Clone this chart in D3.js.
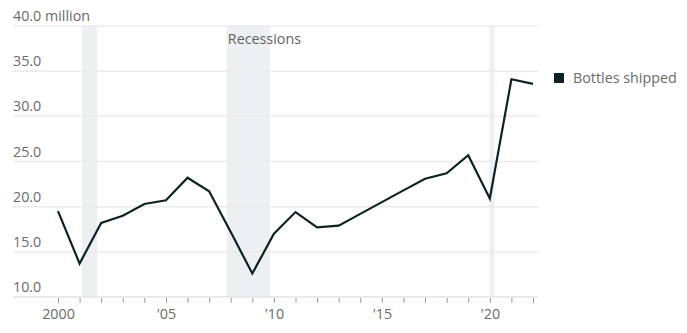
<!DOCTYPE html>
<html>
<head>
<meta charset="utf-8">
<script src="https://cdn.jsdelivr.net/npm/d3@7"></script>
<style>
  body { margin: 0; background: #fff; }
  text { font-family: "Open Sans", Roboto, sans-serif; }
</style>
</head>
<body>
<svg id="svg"></svg>
<script>
// bottles shipped per year, millions
var years = d3.range(2000, 2023);
var shipped = [19.5, 13.7, 18.2, 19.0, 20.3, 20.7, 23.2, 21.7, 17.2, 12.6, 17.0, 19.4,
               17.7, 17.9, 19.2, 20.5, 21.8, 23.1, 23.7, 25.7, 20.9, 34.1, 33.6];
var yTicks = [10, 15, 20, 25, 30, 35, 40];
var xLabels = {2000: "2000", 2005: "'05", 2010: "'10", 2015: "'15", 2020: "'20"};
// recession spans as fractional years
var recessions = [[2001.11, 2001.81], [2007.82, 2009.82], [2019.98, 2020.22]];
var seriesName = "Bottles shipped";

var width = 687, height = 333;
var left = 13, right = 538;
var fontSize = 14.3;

var svg = d3.select("#svg").attr("width", width).attr("height", height);

var xScale = d3.scaleLinear().domain([2000, 2022]).range([58, 533]);
var yScale = d3.scaleLinear().domain([10, 40]).range([297, 26]);

// shaded recessions
svg.append("g").selectAll("rect")
    .data(recessions)
    .join("rect")
    .attr("x", d => xScale(d[0]))
    .attr("width", d => xScale(d[1]) - xScale(d[0]))
    .attr("y", yScale(40))
    .attr("height", yScale(10) - yScale(40))
    .attr("fill", "#eeeff2");

svg.append("text")
    .attr("x", xScale(recessions[1][0]) + 1)
    .attr("y", 44)
    .attr("fill", "#5f6368")
    .attr("font-size", fontSize)
    .text("Recessions");

// gridlines + labels
var grid = svg.append("g");
grid.selectAll("line")
    .data(yTicks)
    .join("line")
    .attr("x1", left).attr("x2", right)
    .attr("y1", d => yScale(d)).attr("y2", d => yScale(d))
    .attr("stroke", d => d == 10 ? "#e3e3e3" : "#ebebeb")
    .attr("stroke-width", 1.5);
grid.selectAll("text")
    .data(yTicks)
    .join("text")
    .attr("x", left)
    .attr("y", d => yScale(d) - 5)
    .attr("fill", "#6b6b6b")
    .attr("font-size", fontSize)
    .text(d => d.toFixed(1) + (d == 40 ? " million" : ""));

// x axis
var xAxis = svg.append("g")
    .attr("transform", `translate(0, ${yScale(10)})`)
    .call(d3.axisBottom(xScale)
        .tickValues(years)
        .tickSize(5)
        .tickPadding(7)
        .tickFormat(d => xLabels[d] || ""));
xAxis.select(".domain").remove();
xAxis.selectAll(".tick line").attr("stroke", "#9a9a9a").attr("transform", "translate(0,1)");
xAxis.selectAll(".tick text").attr("fill", "#6b6b6b").attr("font-size", fontSize)
    .attr("font-family", "'Open Sans', sans-serif");

// the series line
svg.append("path")
    .datum(years.map((y, i) => [y, shipped[i]]))
    .attr("fill", "none")
    .attr("stroke", "#0e2224")
    .attr("stroke-width", 2.2)
    .attr("stroke-linejoin", "miter")
    .attr("d", d3.line()
        .x(d => xScale(d[0]))
        .y(d => yScale(d[1])));

// legend
var legend = svg.append("g").attr("transform", "translate(554, 73)");
legend.append("rect").attr("width", 10).attr("height", 10).attr("fill", "#0e2224");
legend.append("text")
    .attr("x", 19).attr("y", 10)
    .attr("fill", "#6b6b6b")
    .attr("font-size", fontSize)
    .text(seriesName);
</script>
</body>
</html>
